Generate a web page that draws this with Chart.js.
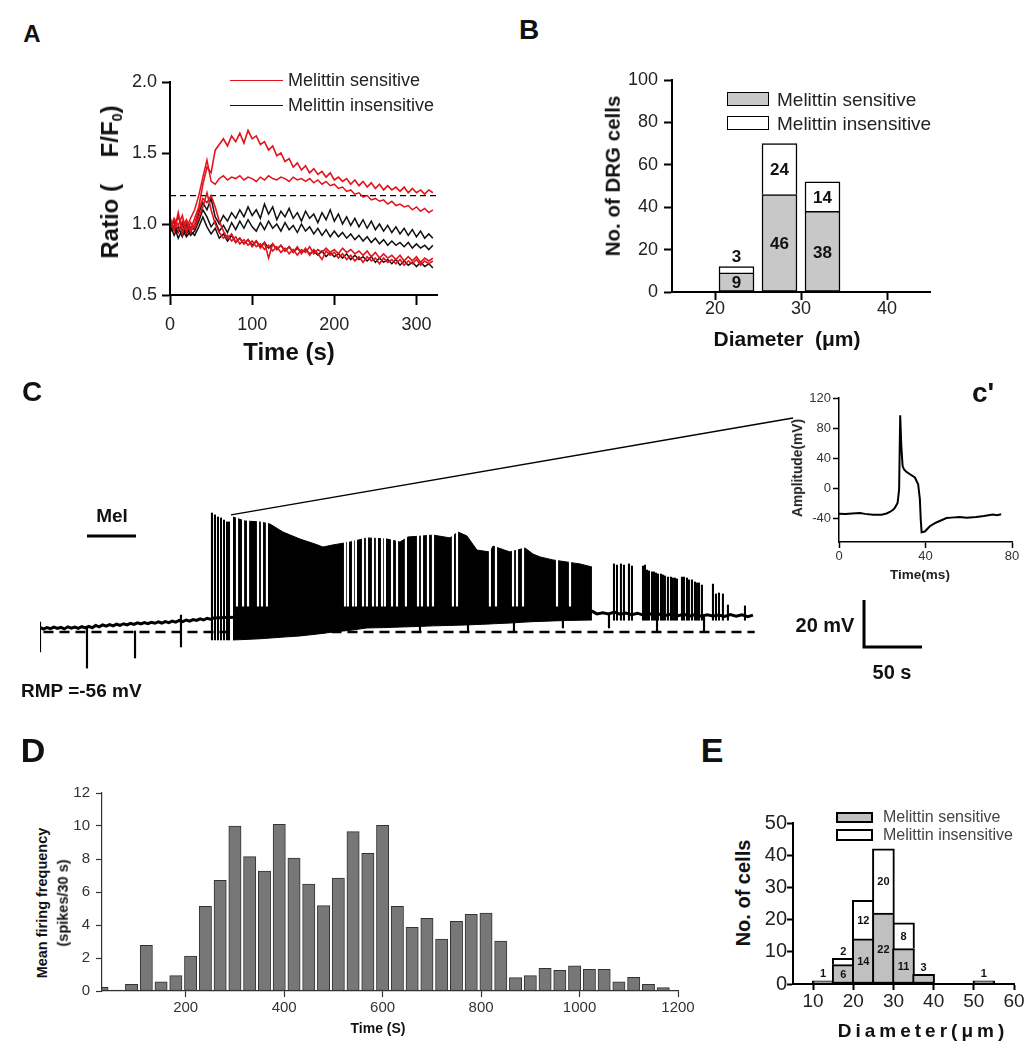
<!DOCTYPE html>
<html>
<head>
<meta charset="utf-8">
<title>Melittin DRG figure</title>
<script src="https://cdn.jsdelivr.net/npm/chart.js"></script>
<style>
  body { margin: 0; width: 1033px; height: 1050px; position: relative; overflow: hidden; background: #fff;
         font-family: "Liberation Sans", Arial, Helvetica, sans-serif; color: #111; }
  canvas { position: absolute; }
  .txt { position: absolute; white-space: nowrap; line-height: 1; transform: translate(-50%, -50%); }
  .left { transform: translate(0, -50%); }
  .rot { transform: translate(-50%, -50%) rotate(-90deg); }
  .bold { font-weight: bold; }
  .swatch { position: absolute; box-sizing: border-box; border: 1.5px solid #000; }
  .key { position: absolute; height: 0; }
  sub { font-size: 0.6em; vertical-align: -0.25em; line-height: 0; }
</style>
</head>
<body>
<script>
// ---------- data ----------

// A: Ca imaging ratio traces, sampled every 5 s
var timeA = [0,5,10,15,20,25,30,35,40,45,50,55,60,65,70,75,80,85,90,95,100,105,110,115,120,125,130,135,140,145,150,155,160,165,170,175,180,185,190,195,200,205,210,215,220,225,230,235,240,245,250,255,260,265,270,275,280,285,290,295,300,305,310,315,320];
var redA1 = [1.02,0.97,1.05,0.98,1.03,0.96,1.04,1.12,1.28,1.40,1.36,1.52,1.56,
             1.60,1.55,1.62,1.58,1.64,1.57,1.66,1.60,1.62,1.56,1.58,1.52,1.55,
             1.48,1.50,1.44,1.46,1.40,1.43,1.38,1.41,1.36,1.39,1.35,1.37,1.33,
             1.36,1.31,1.33,1.30,1.32,1.28,1.31,1.27,1.30,1.26,1.29,1.25,1.28,
             1.24,1.27,1.24,1.26,1.23,1.26,1.22,1.25,1.22,1.24,1.21,1.24,1.22];
var redA2 = [0.98,1.03,0.95,1.02,0.97,1.04,1.10,1.20,1.33,1.45,1.30,1.28,1.32,
             1.34,1.31,1.33,1.32,1.34,1.31,1.33,1.32,1.30,1.33,1.31,1.34,1.32,
             1.31,1.33,1.32,1.30,1.33,1.31,1.32,1.30,1.32,1.29,1.31,1.28,1.30,
             1.27,1.28,1.25,1.26,1.23,1.24,1.21,1.22,1.19,1.20,1.17,1.18,1.16,
             1.17,1.14,1.16,1.13,1.14,1.12,1.13,1.10,1.12,1.09,1.11,1.08,1.10];
var redA3 = [1.05,0.95,1.08,0.93,1.02,0.94,1.00,1.10,1.18,1.15,1.20,1.12,1.02,
             0.95,0.90,0.93,0.87,0.90,0.86,0.89,0.84,0.88,0.83,0.87,0.76,0.86,
             0.82,0.85,0.81,0.84,0.80,0.84,0.79,0.83,0.78,0.82,0.79,0.75,0.81,
             0.78,0.80,0.76,0.79,0.75,0.78,0.74,0.77,0.73,0.77,0.74,0.76,0.72,
             0.76,0.73,0.75,0.72,0.75,0.71,0.74,0.72,0.75,0.71,0.74,0.72,0.74];
var redA4 = [0.96,1.04,0.99,1.06,0.94,1.01,0.97,1.05,1.12,1.22,1.10,1.00,0.94,
             0.90,0.92,0.88,0.91,0.86,0.89,0.85,0.88,0.84,0.86,0.82,0.85,0.81,
             0.84,0.80,0.83,0.79,0.82,0.78,0.82,0.80,0.84,0.79,0.82,0.80,0.83,
             0.80,0.82,0.79,0.83,0.80,0.82,0.79,0.81,0.78,0.81,0.77,0.80,0.76,
             0.79,0.76,0.78,0.75,0.78,0.74,0.77,0.74,0.77,0.73,0.76,0.74,0.76];
var blackA1 = [0.97,1.02,0.94,1.00,0.93,0.98,0.96,1.08,1.15,1.10,1.18,1.05,1.00,
               1.06,1.02,1.08,1.04,1.10,1.05,1.12,1.06,1.10,1.04,1.14,1.07,1.12,
               1.03,1.09,1.05,1.11,1.04,1.08,1.02,1.09,1.04,1.07,1.01,1.08,1.03,
               1.10,1.02,1.07,1.00,1.05,0.99,1.04,0.98,1.03,0.97,1.02,0.96,1.00,
               0.95,0.99,0.94,0.98,0.93,0.97,0.92,0.96,0.91,0.95,0.90,0.93,0.90];
var blackA2 = [1.00,0.92,0.98,0.91,0.99,0.92,0.95,1.02,1.10,1.05,0.98,1.02,0.95,
               0.99,0.94,1.01,0.96,1.02,0.97,1.03,0.98,0.95,1.01,0.96,1.02,0.97,
               1.00,0.95,1.01,0.96,0.99,0.94,1.00,0.95,0.98,0.93,0.97,0.92,0.96,
               0.91,0.95,0.91,0.94,0.90,0.93,0.89,0.92,0.88,0.91,0.87,0.90,0.86,
               0.89,0.85,0.88,0.85,0.87,0.84,0.87,0.83,0.86,0.83,0.85,0.82,0.85];
var blackA3 = [0.94,0.99,0.90,0.96,0.91,0.95,0.92,0.98,1.05,0.98,0.93,0.97,0.90,
               0.93,0.88,0.92,0.87,0.90,0.86,0.89,0.85,0.88,0.84,0.87,0.83,0.86,
               0.82,0.85,0.81,0.84,0.80,0.83,0.80,0.82,0.79,0.81,0.78,0.81,0.77,
               0.80,0.77,0.79,0.76,0.79,0.75,0.78,0.75,0.77,0.74,0.77,0.73,0.76,
               0.73,0.75,0.72,0.75,0.71,0.74,0.71,0.73,0.70,0.73,0.70,0.72,0.69];
var thresholdA = 1.2, thresholdSpanA = [0, 325];
var ticksAx = [0, 100, 200, 300], ticksAy = [0.5, 1.0, 1.5, 2.0];

// B: diameter histogram
var diamB = [22.5, 27.5, 32.5];
var sensB = [9, 46, 38];
var insensB = [3, 24, 14];
var ticksBx = [20, 30, 40], ticksBy = [0, 20, 40, 60, 80, 100];

// C: current-clamp trace (time s, membrane mV)
var baseT = [0,3,6,9,12,15,18,21,24,27,30,33,36,39,42,45,48,51,54,57,60,63,66,69,72,75,78,81,84,87,90,93,96,99,102,105,108,111,114,117,120,123,126,129,132,135,138,141,144,147,150,
             160,180,200,220,240,260,280,300,320,340,360,380,400,420,440,460,
             476,480,485,490,495,500,505,510,515,520,525,530,535,540,545,550,555,560,565,570,575,580,585,590,595,600,605,610,614.5];
var baseV = [-54.0,-54.8,-54.1,-54.6,-53.9,-54.5,-54.0,-54.7,-53.8,-54.4,
             -53.9,-54.5,-53.7,-54.3,-53.6,-54.2,-53.2,-53.8,-53.0,-53.5,
             -52.9,-53.4,-52.7,-53.2,-52.5,-53.0,-52.3,-52.8,-52.1,-52.6,
             -52.0,-52.5,-51.9,-52.3,-51.7,-52.2,-51.6,-52.0,-51.4,-51.8,
             -51.1,-51.6,-50.9,-51.4,-50.7,-51.1,-50.4,-50.9,-50.2,-50.6,-50.0,
             -49.8,-49.6,-49.3,-49.0,-48.7,-48.5,-48.2,-48.0,-47.8,-47.9,-47.6,-47.8,-47.5,-47.7,-47.4,-47.6,
             -47.2,-48.3,-47.8,-48.3,-47.5,-48.4,-47.9,-48.6,-48.0,-48.8,-48.2,
             -49.0,-48.4,-48.9,-48.3,-49.1,-48.5,-49.2,-48.6,-49.3,-48.7,
             -49.2,-48.8,-49.4,-48.6,-49.3,-48.7,-49.5,-48.8];
// dense firing: envelope of spike peaks and troughs
var blockT   = [166.3,176.7,189.6,198.2,209.4,224.1,237.0,243.9,252.5,267.2,281.8,299.1,310.3,317.2,329.2,338.7,353.4,360.3,368.0,376.6,387.8,390.4,405.1,418.0,424.9,430.9,442.1,454.2,465.4,475.7];
var blockTop = [-7.0,-8.7,-9.1,-10.0,-13.4,-16.4,-18.5,-19.8,-18.9,-17.7,-15.9,-16.4,-17.7,-15.5,-15.1,-14.7,-15.9,-13.4,-15.1,-21.1,-21.9,-19.4,-21.9,-20.2,-22.8,-24.0,-25.3,-26.2,-27.0,-28.3];
var blockBot = [-59.4,-59.2,-58.9,-58.6,-58.2,-57.7,-57.0,-56.6,-56.0,-55.3,-54.3,-54.1,-53.9,-53.8,-53.6,-53.4,-53.2,-53.1,-53.0,-52.8,-52.6,-52.5,-52.2,-51.8,-51.6,-51.5,-51.3,-51.1,-51.0,-50.9];
// short pauses inside the dense firing
var pauseT = [169.8,175.0,179.3,187.9,191.3,195.6,262.9,265.4,269.8,272.3,278.4,281.8,287.0,290.4,294.8,297.3,303.4,307.7,315.4,325.8,329.2,334.4,338.7,355.9,359.4,387.8,393.0,407.7,411.1,416.3,445.6,456.8];
var pauseLo = -45, pauseHi = -4;
// isolated spikes
var spikeT = [148.2,150.8,153.4,156.0,158.6,161.2,162.9,
              494.7,497.3,500.7,503.3,507.6,510.2,
              519.7,521.4,523.2,524.9,527.5,529.2,530.9,532.6,535.2,536.9,538.6,541.2,543.8,545.5,547.3,549.0,
              553.3,555.0,557.6,559.3,561.9,564.5,566.2,568.0,570.5,
              580.0,582.6,585.2,588.6,592.9,607.6];
var spikeTop = [-5.3,-6.1,-7.0,-7.4,-8.3,-9.1,-9.1,
                -27.0,-27.5,-27.0,-27.5,-27.0,-27.9,
                -27.9,-27.5,-29.6,-30.0,-30.4,-30.4,-30.9,-31.3,-31.3,-31.7,-32.1,-32.6,-32.6,-33.0,-33.0,-33.4,
                -32.6,-32.6,-33.0,-33.8,-33.8,-34.7,-35.1,-35.1,-36.0,
                -35.6,-39.8,-39.4,-39.8,-44.5,-44.9];
var spikeBot = [-59.4,-59.4,-59.4,-59.4,-59.4,-59.4,-59.4,
                -51,-51,-51,-51,-51,-51,
                -51,-51,-51,-51,-51,-51,-51,-51,-51,-51,-51,-51,-51,-51,-51,-51,
                -51,-51,-51,-51,-51,-51,-51,-51,-51,
                -51,-51,-51,-51,-51,-51];
// stimulus artifacts
var artT  = [0,40.5,81.9,121.5,327.5,368.9,408.5,450.7,490.4,531.8,572.3];
var artLo = [-64.5,-71.4,-67.1,-62.4,-56.0,-56.0,-56.0,-54.3,-54.3,-56.0,-56.0];
var artHi = [-51.8,-54.3,-55.6,-48.8,-47.5,-47.5,-47.5,-48.0,-48.0,-48.5,-48.5];
var rmpV = -56, rmpT = [3, 616];
var melT = [40.5, 82.7], melV = -15.1;
var zoomT = [164.6, 649.0], zoomV = [-6.1, 35.2];
var scaleT = [710.2, 710.2, 760.2], scaleV = [-42.4, -62.4, -62.4];   // 20 mV by 50 s

// c': single action potential
var apT = [0,3,6,9.7,12,15.8,19.7,22,23.5,25,25.8,27.1,27.8,28.3,28.8,29.4,30,31,32.8,35.1,36.6,37.4,37.8,38.2,39.7,42,45,49.7,52,55.8,59,63.5,67,71.2,73,75];
var apV = [-34.2,-34.8,-33.9,-33.3,-34.5,-35.5,-35.5,-34,-32,-29,-26.5,-19.8,-1.8,97,56.6,29.7,25,22,18.4,14,5,-15,-42,-59,-58,-51,-46,-40,-39.5,-38.6,-39.6,-38.6,-37.4,-35.5,-36.2,-35];
var ticksCx = [0, 40, 80], ticksCy = [-40, 0, 40, 80, 120];

// D: mean firing frequency per 30 s bin
var timeD = [30,60,90,120,150,180,210,240,270,300,330,360,390,420,450,480,510,540,570,600,630,660,690,720,750,780,810,840,870,900,930,960,990,1020,1050,1080,1110,1140,1170];
var rateD = [0.22,0.05,0.40,2.77,0.55,0.93,2.12,5.13,6.70,10.0,8.14,7.27,10.1,8.06,6.48,5.17,6.85,9.66,8.34,10.04,5.13,3.86,4.40,3.15,4.22,4.65,4.73,3.03,0.81,0.93,1.37,1.25,1.52,1.31,1.31,0.55,0.83,0.40,0.20];
var ticksDx = [200, 400, 600, 800, 1000, 1200], ticksDy = [0, 2, 4, 6, 8, 10, 12];

// E: diameter histogram, 5 um bins
var binsE = [12.5, 17.5, 22.5, 27.5, 32.5, 37.5, 52.5];
var sensE = [1, 6, 14, 22, 11, 3, 1];
var insensE = [0, 2, 12, 20, 8, 0, 0];
var ticksEx = [10, 20, 30, 40, 50, 60], ticksEy = [0, 10, 20, 30, 40, 50];

// ---------- helpers ----------
var FONT = '"Liberation Sans", Arial, Helvetica, sans-serif';
Chart.defaults.font.family = FONT;
var RED = '#e3121b', GREY_B = '#c8c8c8', GREY_E = '#c0c0c0', GREY_D = '#777777';

function xy(xs, ys) {
  return xs.map(function (x, i) { return { x: x, y: Array.isArray(ys) ? ys[i] : ys }; });
}
function span(xs, lo, hi) {
  return xs.map(function (x, i) {
    return { x: x, y: [Array.isArray(lo) ? lo[i] : lo, Array.isArray(hi) ? hi[i] : hi] };
  });
}
function line(data, color, width, extra) {
  return Object.assign({ type: 'line', data: data, borderColor: color, borderWidth: width,
    pointRadius: 0, fill: false, tension: 0 }, extra || {});
}
function bars(data, color, thick, extra) {
  return Object.assign({ type: 'bar', data: data, backgroundColor: color, borderWidth: 0,
    barThickness: thick, grouped: false }, extra || {});
}

// canvas placed so the plot area lands on 'area' (page px); m = room for axes
function place(area, m) {
  var cv = document.createElement('canvas');
  var w = Math.round(area.r - area.l + m.l + m.r), h = Math.round(area.b - area.t + m.t + m.b);
  cv.width = w; cv.height = h;
  cv.style.width = w + 'px'; cv.style.height = h + 'px';
  cv.style.left = (area.l - m.l) + 'px'; cv.style.top = (area.t - m.t) + 'px';
  document.body.appendChild(cv);
  return cv;
}
function axis(pos, min, max, ticks, size, st) {
  return {
    type: 'linear', position: pos, min: min, max: max, offset: false,
    afterBuildTicks: function (s) { s.ticks = ticks.map(function (v) { return { value: v }; }); },
    afterFit: function (s) { if (pos === 'bottom') s.height = size; else s.width = size; },
    border: { display: true, color: st.color || '#000', width: st.line, z: 1 },
    grid: { display: true, drawOnChartArea: false, drawTicks: true, tickLength: st.tick,
            tickWidth: st.line, tickColor: st.color || '#000', offset: false },
    ticks: { autoSkip: false, maxRotation: 0, padding: st.pad, color: st.text || '#222',
             font: { size: st.font, lineHeight: 1 }, callback: st.fmt || function (v) { return v; } }
  };
}
function options(m, scales) {
  return {
    responsive: false, animation: false, devicePixelRatio: 1, events: [],
    layout: { padding: { left: 0, top: m.t, right: m.r, bottom: 0 } },
    plugins: { legend: { display: false }, tooltip: { enabled: false } },
    scales: scales
  };
}
function label(html, x, y, size, o) {
  o = o || {};
  var el = document.createElement('div');
  el.className = 'txt' + (o.bold ? ' bold' : '') + (o.rot ? ' rot' : '') + (o.left ? ' left' : '');
  el.innerHTML = html;
  el.style.left = x + 'px'; el.style.top = y + 'px'; el.style.fontSize = size + 'px';
  if (o.color) el.style.color = o.color;
  if (o.spacing) el.style.letterSpacing = o.spacing + 'px';
  document.body.appendChild(el);
}
function swatch(x, y, w, h, fill, bw) {
  var el = document.createElement('div');
  el.className = 'swatch';
  el.style.left = x + 'px'; el.style.top = y + 'px'; el.style.width = w + 'px'; el.style.height = h + 'px';
  el.style.background = fill; el.style.borderWidth = bw + 'px';
  document.body.appendChild(el);
}
function key(x, y, w, color) {
  var el = document.createElement('div');
  el.className = 'key';
  el.style.left = x + 'px'; el.style.top = y + 'px'; el.style.width = w + 'px';
  el.style.borderTop = '1.5px solid ' + color;
  document.body.appendChild(el);
}
// count labels for stacked bins: centred in the segment if it fits, else just above
function segmentLabels(chart, xs, lower, upper, texts, fs) {
  var ox = parseFloat(chart.canvas.style.left), oy = parseFloat(chart.canvas.style.top);
  var sx = chart.scales.x, sy = chart.scales.y;
  xs.forEach(function (x, i) {
    if (!texts[i]) return;
    var top = sy.getPixelForValue(upper[i]), bot = sy.getPixelForValue(lower[i]);
    var px = ox + sx.getPixelForValue(x);
    var py = (bot - top) >= fs + 2 ? oy + (top + bot) / 2 : oy + top - fs / 2 - 2;
    label(String(texts[i]), px, py, fs, { bold: true });
  });
}

// ---------- layout (page px of each plot area) ----------
var AREA = {
  A:  { l: 170, t: 82,  r: 437.3, b: 295 },
  B:  { l: 672, t: 80,  r: 930,   b: 292 },
  C:  { l: 40,  t: 395, r: 945,   b: 700 },
  Cz: { l: 839, t: 398, r: 1012,  b: 542 },
  D:  { l: 102, t: 793, r: 678,   b: 991 },
  E:  { l: 793, t: 823, r: 1014,  b: 984 }
};
var MARGIN = {
  A:  { l: 60, t: 20, r: 20, b: 45 },
  B:  { l: 50, t: 20, r: 20, b: 40 },
  C:  { l: 0,  t: 0,  r: 0,  b: 0 },
  Cz: { l: 40, t: 20, r: 15, b: 30 },
  D:  { l: 50, t: 20, r: 25, b: 35 },
  E:  { l: 33, t: 20, r: 15, b: 35 }
};

// ---------- panel A ----------
new Chart(place(AREA.A, MARGIN.A), {
  type: 'line',
  data: { datasets: [
    line(xy(timeA, redA1), RED, 1.6), line(xy(timeA, redA2), RED, 1.5),
    line(xy(timeA, redA3), RED, 1.6), line(xy(timeA, redA4), RED, 1.6),
    line(xy(timeA, blackA1), '#111', 1.5), line(xy(timeA, blackA2), '#111', 1.5),
    line(xy(timeA, blackA3), '#111', 1.5),
    line(xy(thresholdSpanA, thresholdA), '#000', 1.3, { borderDash: [6, 4] })
  ] },
  options: options(MARGIN.A, {
    x: axis('bottom', 0, 325, ticksAx, MARGIN.A.b, { line: 2, tick: 10, pad: 11, font: 18 }),
    y: axis('left', 0.5, 2.0, ticksAy, MARGIN.A.l, { line: 2, tick: 8, pad: 5, font: 18,
         fmt: function (v) { return v.toFixed(1); } })
  })
});
label('A', 32, 34, 24, { bold: true });
key(230, 79.5, 53, RED);
key(230, 104.5, 53, '#111');
label('Melittin sensitive', 288, 80, 18, { left: true, color: '#222' });
label('Melittin insensitive', 288, 105, 18, { left: true, color: '#222' });
label('Ratio (&nbsp;&nbsp;&nbsp; F/F<sub>0</sub>)', 110, 182, 24, { bold: true, rot: true });
label('Time (s)', 289, 352, 24, { bold: true });

// ---------- panel B ----------
var totB = sensB.map(function (s, i) { return s + insensB[i]; });
var chartB = new Chart(place(AREA.B, MARGIN.B), {
  type: 'bar',
  data: { datasets: [
    bars(span(diamB, 0, sensB), GREY_B, 35, { borderWidth: 1.5, borderColor: '#000', borderSkipped: false }),
    bars(span(diamB, sensB, totB), '#fff', 35, { borderWidth: 1.5, borderColor: '#000', borderSkipped: 'bottom' })
  ] },
  options: options(MARGIN.B, {
    x: axis('bottom', 15, 45, ticksBx, MARGIN.B.b, { line: 2, tick: 8, pad: 0, font: 18 }),
    y: axis('left', 0, 100, ticksBy, MARGIN.B.l, { line: 2, tick: 8, pad: 6, font: 18 })
  })
});
segmentLabels(chartB, diamB, diamB.map(function () { return 0; }), sensB, sensB, 17);
segmentLabels(chartB, diamB, sensB, totB, insensB, 17);
label('B', 529, 30, 28, { bold: true });
swatch(727, 92, 42, 14, GREY_B, 1.5);
swatch(727, 116, 42, 14, '#fff', 1.5);
label('Melittin sensitive', 777, 99, 19, { left: true, color: '#222' });
label('Melittin insensitive', 777, 123, 19, { left: true, color: '#222' });
label('No. of DRG cells', 613, 176, 20.5, { bold: true, rot: true });
label('Diameter&nbsp;&nbsp;(&mu;m)', 787, 338, 21, { bold: true });

// ---------- panel C ----------
new Chart(place(AREA.C, MARGIN.C), {
  type: 'bar',
  data: { datasets: [
    line(xy(blockT, blockTop), '#000', 1, { fill: '+1', backgroundColor: '#000', order: 10 }),
    line(xy(blockT, blockBot), '#000', 1, { order: 10 }),
    bars(span(pauseT, pauseLo, pauseHi), '#fff', 1.5, { order: 9 }),
    line(xy(baseT, baseV), '#000', 3, { order: 8 }),
    bars(span(spikeT, spikeBot, spikeTop), '#000', 1.4, { order: 7 }),
    bars(span(artT, artLo, artHi), '#000', 1.5, { order: 6 }),
    line(xy(rmpT, rmpV), '#000', 2.5, { borderDash: [10, 6], order: 5 }),
    line(xy(melT, melV), '#000', 3, { order: 1 }),
    line(xy(zoomT, zoomV), '#000', 1.3, { order: 1 }),
    line(xy(scaleT, scaleV), '#000', 3, { order: 1 })
  ] },
  options: options(MARGIN.C, {
    x: { type: 'linear', min: 0, max: 780, display: false, offset: false },
    y: { type: 'linear', min: -85, max: 45, display: false }
  })
});
label('C', 32, 392, 28, { bold: true });
label('Mel', 112, 515, 19, { bold: true });
label('RMP =-56 mV', 21, 690, 19, { bold: true, left: true });
label('20 mV', 825, 625, 20, { bold: true });
label('50 s', 892, 672, 20, { bold: true });

// ---------- panel c' ----------
new Chart(place(AREA.Cz, MARGIN.Cz), {
  type: 'line',
  data: { datasets: [ line(xy(apT, apV), '#000', 2) ] },
  options: options(MARGIN.Cz, {
    x: axis('bottom', 0, 80, ticksCx, MARGIN.Cz.b, { line: 1.5, tick: 6, pad: 2, font: 13, text: '#333' }),
    y: axis('left', -72, 120, ticksCy, MARGIN.Cz.l, { line: 1.5, tick: 6, pad: 2, font: 13, text: '#333' })
  })
});
label("c'", 983, 393, 28, { bold: true });
label('Amplitude(mV)', 798, 468, 13.8, { bold: true, rot: true, color: '#222' });
label('Time(ms)', 920, 575, 13.5, { bold: true, color: '#222' });

// ---------- panel D ----------
new Chart(place(AREA.D, MARGIN.D), {
  type: 'bar',
  data: { datasets: [
    bars(xy(timeD, rateD), GREY_D, 12.3, { borderWidth: 1, borderColor: '#333', borderSkipped: false, clip: 0 })
  ] },
  options: options(MARGIN.D, {
    x: axis('bottom', 30, 1200, ticksDx, MARGIN.D.b, { line: 1.2, tick: 6, pad: 3.5, font: 15, color: '#333', text: '#333' }),
    y: axis('left', 0, 12, ticksDy, MARGIN.D.l, { line: 1.2, tick: 6, pad: 6, font: 15, color: '#333', text: '#333' })
  })
});
label('D', 33, 750, 34, { bold: true });
label('Mean firing frequency', 42, 903, 14.5, { bold: true, rot: true });
label('(spikes/30 s)', 63, 903, 14.5, { bold: true, rot: true });
label('Time (S)', 378, 1028, 14, { bold: true });

// ---------- panel E ----------
var totE = sensE.map(function (s, i) { return s + insensE[i]; });
var binsEi = binsE.filter(function (b, i) { return insensE[i] > 0; });
var chartE = new Chart(place(AREA.E, MARGIN.E), {
  type: 'bar',
  data: { datasets: [
    bars(span(binsE, 0, sensE), GREY_E, 22, { borderWidth: 2, borderColor: '#000', borderSkipped: false }),
    bars(span(binsEi,
              sensE.filter(function (s, i) { return insensE[i] > 0; }),
              totE.filter(function (s, i) { return insensE[i] > 0; })),
         '#fff', 22, { borderWidth: 2, borderColor: '#000', borderSkipped: 'bottom' })
  ] },
  options: options(MARGIN.E, {
    x: axis('bottom', 5, 60, ticksEx, MARGIN.E.b, { line: 2, tick: 6, pad: 2, font: 19 }),
    y: axis('left', 0, 50, ticksEy, MARGIN.E.l, { line: 2, tick: 6, pad: 0, font: 20 })
  })
});
segmentLabels(chartE, binsE, binsE.map(function () { return 0; }), sensE, sensE, 11);
segmentLabels(chartE, binsE, sensE, totE, insensE, 11);
label('E', 712, 750, 34, { bold: true });
swatch(836, 812, 37, 11, GREY_E, 2);
swatch(836, 829, 37, 12, '#fff', 2);
label('Melittin sensitive', 883, 817, 16, { left: true, color: '#444' });
label('Melittin insensitive', 883, 835, 16, { left: true, color: '#444' });
label('No. of cells', 743, 893, 20, { bold: true, rot: true });
label('Diameter(&mu;m)', 923, 1030, 19, { bold: true, spacing: 4 });
</script>
</body>
</html>
